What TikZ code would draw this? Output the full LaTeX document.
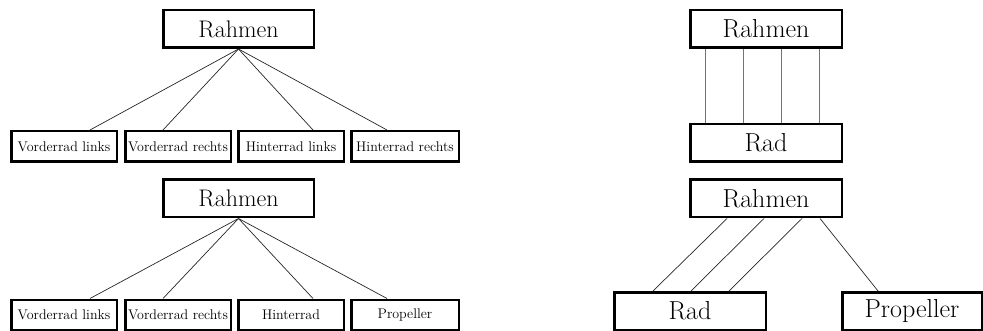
\documentclass[tikz,border=0pt]{standalone}
\usepackage{tikz}

\begin{document}
\begin{tikzpicture}[x=1pt,y=-1pt,
    bigbox/.style={draw, rectangle, line width=2.5pt, inner sep=0, minimum height=37.5pt, font=\fontsize{24}{28}\selectfont},
    partbox/.style={draw, rectangle, line width=2.5pt, inner sep=0, minimum width=105.5pt, minimum height=30.5pt, font=\fontsize{14}{17}\selectfont},
    wheelbox/.style={draw, rectangle, line width=2.5pt, inner sep=0, minimum height=37.5pt, font=\fontsize{26}{30}\selectfont},
    link/.style={line width=0.7pt, black!85},
    pipe/.style={line width=0.9pt, black!55}]

      \useasboundingbox (0, 0) rectangle (983, 331);

      % left top: four separate wheels
      \node[bigbox, minimum width=150.5pt] (rahmenA) at (238.5, 29) {Rahmen};
      \node[partbox] (vlA) at (64, 146.5) {Vorderrad links};
      \node[partbox] (vrA) at (178, 146.5) {Vorderrad rechts};
      \node[partbox] (hlA) at (291, 146.5) {Hinterrad links};
      \node[partbox, minimum width=107.5pt] (hrA) at (405, 146.5) {Hinterrad rechts};
      \draw[link] (rahmenA.south) -- ([xshift=26pt]vlA.north);
      \draw[link] (rahmenA.south) -- ([xshift=-15pt]vrA.north);
      \draw[link] (rahmenA.south) -- ([xshift=22pt]hlA.north);
      \draw[link] (rahmenA.south) -- ([xshift=-18pt]hrA.north);

      % left bottom: with propeller
      \node[bigbox, minimum width=150.5pt] (rahmenB) at (238.5, 198.5) {Rahmen};
      \node[partbox] (vlB) at (64, 315) {Vorderrad links};
      \node[partbox] (vrB) at (178, 315) {Vorderrad rechts};
      \node[partbox] (hB) at (291, 315) {Hinterrad};
      \node[partbox, minimum width=107.5pt] (pB) at (405, 315) {Propeller};
      \draw[link] (rahmenB.south) -- ([xshift=26pt]vlB.north);
      \draw[link] (rahmenB.south) -- ([xshift=-15pt]vrB.north);
      \draw[link] (rahmenB.south) -- ([xshift=22pt]hB.north);
      \draw[link] (rahmenB.south) -- ([xshift=-18pt]pB.north);

      % right top: one wheel type, four times
      \node[wheelbox, minimum width=151.5pt] (rahmenC) at (766, 29) {Rahmen};
      \node[wheelbox, minimum width=151.5pt] (radC) at (766, 143) {Rad};
      \foreach \dx in {-61, -23, 15, 53}
        \draw[pipe] ([xshift=\dx pt]rahmenC.south) -- ([xshift=\dx pt]radC.north);

      % right bottom: wheel three times, propeller once
      \node[wheelbox, minimum width=151.5pt] (rahmenD) at (766, 198.5) {Rahmen};
      \node[wheelbox, minimum width=151.5pt] (radD) at (690, 311) {Rad};
      \node[wheelbox, minimum width=139.5pt] (propD) at (912, 311) {Propeller};
      \foreach \dx/\ex in {-39/-37, -2/1, 36/39}
        \draw[link] ([xshift=\dx pt]rahmenD.south) -- ([xshift=\ex pt]radD.north);
      \draw[link] ([xshift=54pt]rahmenD.south) -- ([xshift=-34pt]propD.north);
    \end{tikzpicture}
\end{document}
